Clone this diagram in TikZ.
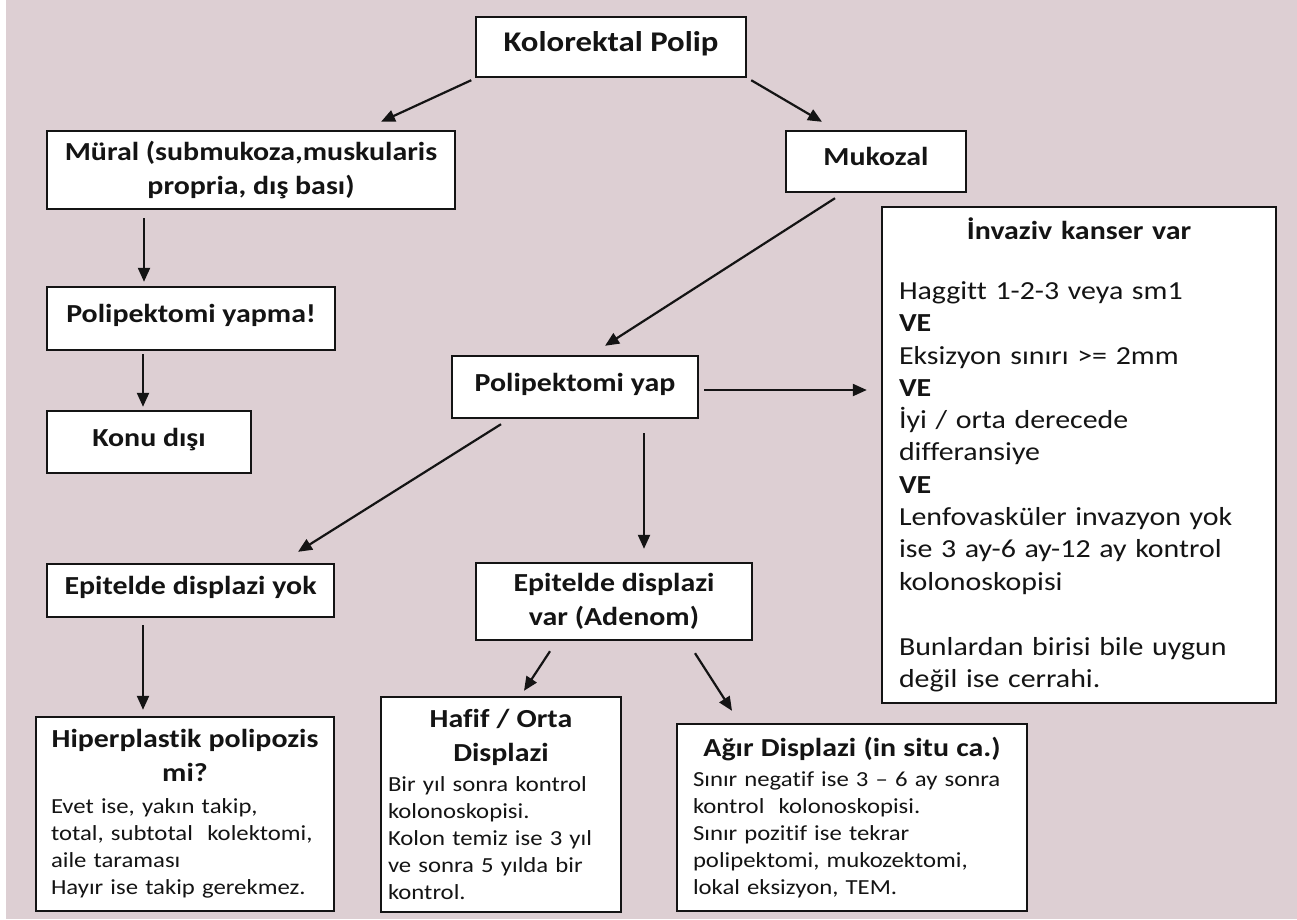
\documentclass[tikz,border=0pt]{standalone}
\usepackage{fontspec}
\setmainfont{Carlito}[FakeStretch=1.15, Ligatures={TeX,NoCommon}]
\usetikzlibrary{arrows.meta,calc}
\definecolor{bgpink}{RGB}{221,207,211}
\definecolor{ink}{RGB}{20,20,20}
\newcommand\hdf{\fontsize{26}{34}\selectfont\bfseries}
\newcommand\bdf{\fontsize{21.5}{27}\selectfont}
\newcommand\ivf{\fontsize{26}{32.3}\selectfont}
\tikzset{
  box/.style={draw=ink, line width=2.4pt, fill=white, inner sep=0pt, text=ink},
  oneline/.style={box, font=\hdf, text height=19pt, text depth=11pt},
  arr/.style={draw=ink, line width=2.2pt, -{Triangle[length=14pt,width=12pt]}}
}
\begin{document}
\begin{tikzpicture}[x=1pt,y=-1pt]
\useasboundingbox (0,0) rectangle (1297,919);
\fill[white] (0,0) rectangle (1297,919);
\fill[bgpink] (6,0) rectangle (1297,919);

\node[oneline, minimum width=270pt, minimum height=60pt] (K) at (611,47) {\fontsize{28.5}{34}\selectfont Kolorektal Polip};
\node[box, font=\hdf, align=center, minimum width=408pt, minimum height=78pt] (M) at (251,170) {Müral (submukoza,muskularis\\propria, dış bası)};
\node[oneline, minimum width=180pt, minimum height=61pt] (Mk) at (876,161.5) {Mukozal};
\node[oneline, minimum width=288pt, minimum height=63pt] (PY) at (191,318.5) {Polipektomi yapma!};
\node[oneline, minimum width=204pt, minimum height=62pt] (KD) at (149,442) {Konu dışı};
\node[oneline, minimum width=246pt, minimum height=62pt] (P) at (575,387) {Polipektomi yap};
\node[oneline, minimum width=287pt, minimum height=53pt] (EY) at (190.5,590.5) {Epitelde displazi yok};
\node[box, font=\hdf, align=center, minimum width=276pt, minimum height=77pt] (EV) at (614,601.5) {Epitelde displazi\\var (Adenom)};

\node[box, minimum width=394pt, minimum height=496pt, text width=360pt, align=left, font=\ivf] (I) at (1079,455)
 {{\centering\bfseries İnvaziv kanser var\par}\vspace{27.7pt}Haggitt 1-2-3 veya sm1\\\textbf{VE}\\Eksizyon sınırı >= 2mm\\\textbf{VE}\\İyi / orta derecede\\differansiye\\\textbf{VE}\\Lenfovasküler invazyon yok\\ise 3 ay-6 ay-12 ay kontrol\\kolonoskopisi\\[33pt]Bunlardan birisi bile uygun\\değil ise cerrahi.};

\node[box, minimum width=298pt, minimum height=194pt, text width=268pt, align=left, font=\bdf] (H) at (185,814)
 {{\centering\hdf Hiperplastik polipozis\\mi?\par}\vspace{5pt}Evet ise, yakın takip,\\total, subtotal\ \ kolektomi,\\aile taraması\\Hayır ise takip gerekmez.};

\node[box, minimum width=240pt, minimum height=215pt, text width=226pt, align=left, font=\bdf] (HO) at (501,804.5)
 {{\centering\hdf Hafif / Orta\\Displazi\par}\vspace{3pt}Bir yıl sonra kontrol\\kolonoskopisi.\\Kolon temiz ise 3 yıl\\ve sonra 5 yılda bir\\kontrol.};

\node[box, minimum width=350pt, minimum height=187pt, text width=318pt, align=left, font=\bdf] (A) at (852,817.5)
 {{\centering\hdf Ağır Displazi (in situ ca.)\par}\vspace{3pt}Sınır negatif ise 3 – 6 ay sonra\\kontrol\ \ kolonoskopisi.\\Sınır pozitif ise tekrar\\polipektomi, mukozektomi,\\lokal eksizyon, TEM.};

\draw[arr] ($(K.south west)+(-3.5,2)$) -- ($(M.north)+(130,-8)$);
\draw[arr] ($(K.south east)+(4,2)$) -- ($(Mk.north)+(-54,-8)$);
\draw[arr] ($(M.south)+(-107,8)$) -- ($(PY.north)+(-47,-4)$);
\draw[arr] ($(PY.south)+(-48,3)$) -- ($(KD.north)+(-6,-3)$);
\draw[arr] ($(Mk.south)+(-41,5)$) -- ($(P.north)+(30,-9)$);
\draw[arr] ($(P.east)+(5,3)$) -- ($(I.west)+(-14,-65)$);
\draw[arr] ($(P.south)+(-74,5)$) -- ($(EY.north)+(107.5,-11)$);
\draw[arr] ($(P.south)+(69,14)$) -- ($(EV.north)+(30,-13)$);
\draw[arr] ($(EY.south)+(-47.5,7)$) -- ($(H.north)+(-42,-6)$);
\draw[arr] ($(EV.south)+(-64,10)$) -- ($(HO.north)+(23,-5)$);
\draw[arr] ($(EV.south)+(81,12)$) -- ($(A.north)+(-120,-12)$);
\end{tikzpicture}
\end{document}
